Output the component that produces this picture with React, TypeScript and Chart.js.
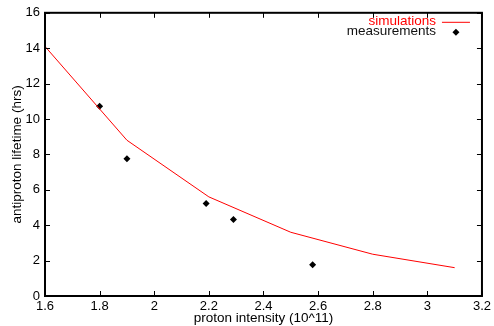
import React, { useEffect, useRef } from "react";
import { Chart, registerables } from "chart.js";

Chart.register(...registerables);

const simX = [1.6, 1.9, 2.2, 2.5, 2.8, 3.1];
const simY = [14.1, 8.8, 5.6, 3.6, 2.36, 1.6];
const measX = [1.8, 1.9, 2.19, 2.29, 2.58];
const measY = [10.72, 7.75, 5.22, 4.32, 1.77];
const seriesLabels = ["simulations", "measurements"];
const xTitle = "proton intensity (10^11)";
const yTitle = "antiproton lifetime (hrs)";

const FONT = "'Liberation Sans', Arial, sans-serif";

const framePlugin = {
  id: "frame",
  afterDraw(chart: any) {
    const { ctx, chartArea: a, scales } = chart;
    ctx.save();
    ctx.strokeStyle = "#000";
    ctx.lineWidth = 1;
    const tl = 5;
    ctx.beginPath();
    for (const t of scales.x.ticks) {
      const px = Math.round(scales.x.getPixelForValue(t.value)) + 0.5;
      ctx.moveTo(px, a.bottom);
      ctx.lineTo(px, a.bottom - tl);
      ctx.moveTo(px, a.top);
      ctx.lineTo(px, a.top + tl);
    }
    for (const t of scales.y.ticks) {
      const py = Math.round(scales.y.getPixelForValue(t.value)) + 0.5;
      ctx.moveTo(a.left, py);
      ctx.lineTo(a.left + tl, py);
      ctx.moveTo(a.right, py);
      ctx.lineTo(a.right - tl, py);
    }
    ctx.stroke();
    ctx.lineWidth = 2;
    ctx.strokeRect(a.left, a.top, a.right - a.left, a.bottom - a.top);

    // legend (gnuplot style)
    const ds = chart.data.datasets;
    ctx.font = `13.5px ${FONT}`;
    ctx.textAlign = "right";
    ctx.textBaseline = "middle";
    const textX = a.right - 46;
    const y1 = a.top + 8.5;
    const y2 = a.top + 18.5;
    ctx.fillStyle = ds[0].borderColor;
    ctx.fillText(ds[0].label, textX, y1);
    ctx.strokeStyle = ds[0].borderColor;
    ctx.lineWidth = 1;
    ctx.beginPath();
    ctx.moveTo(a.right - 40, y1 + 1);
    ctx.lineTo(a.right - 12, y1 + 1);
    ctx.stroke();
    ctx.fillStyle = "#111";
    ctx.fillText(ds[1].label, textX, y2);
    const dx = a.right - 26;
    const dy = y2 + 1;
    const r = 3.5;
    ctx.fillStyle = ds[1].backgroundColor;
    ctx.beginPath();
    ctx.moveTo(dx, dy - r);
    ctx.lineTo(dx + r, dy);
    ctx.lineTo(dx, dy + r);
    ctx.lineTo(dx - r, dy);
    ctx.closePath();
    ctx.fill();
    ctx.restore();
  },
};

export default function App() {
  const ref = useRef<HTMLCanvasElement>(null);
  useEffect(() => {
    if (!ref.current) return;
    Chart.defaults.font.family = FONT;
    const chart = new Chart(ref.current, {
      type: "scatter",
      data: {
        datasets: [
          {
            label: seriesLabels[0],
            data: simX.map((x, i) => ({ x, y: simY[i] })),
            showLine: true,
            borderColor: "#ff0000",
            backgroundColor: "#ff0000",
            borderWidth: 1,
            pointRadius: 0,
          },
          {
            label: seriesLabels[1],
            data: measX.map((x, i) => ({ x, y: measY[i] })),
            showLine: false,
            borderColor: "#000",
            backgroundColor: "#000",
            pointStyle: "rectRot",
            pointRadius: 3.5,
            borderWidth: 0,
          },
        ],
      },
      options: {
        animation: false,
        responsive: false,
        layout: { padding: { top: 10, right: 10, left: 0, bottom: 0 } },
        plugins: { legend: { display: false }, tooltip: { enabled: false } },
        scales: {
          x: {
            type: "linear",
            min: 1.6,
            max: 3.2,
            afterFit: (s: any) => {
              s.height = 30;
            },
            grid: { drawOnChartArea: false, drawTicks: false },
            border: { display: false },
            ticks: {
              stepSize: 0.2,
              padding: 3,
              color: "#000",
              font: { size: 13 },
              maxRotation: 0,
              callback: (v: any) => String(Number(Number(v).toFixed(1))),
            },
            title: {
              display: true,
              text: xTitle,
              color: "#000",
              font: { size: 13.5, lineHeight: 1 },
              padding: { top: 0, bottom: 0.5 },
            },
          },
          y: {
            type: "linear",
            min: 0,
            max: 16,
            afterFit: (s: any) => {
              s.width = 45;
            },
            grid: { drawOnChartArea: false, drawTicks: false },
            border: { display: false },
            ticks: {
              stepSize: 2,
              padding: 5,
              color: "#000",
              font: { size: 13 },
            },
            title: {
              display: true,
              text: yTitle,
              color: "#000",
              font: { size: 13.5, lineHeight: 1 },
              padding: { top: 10.5, bottom: 0 },
            },
          },
        },
      },
      plugins: [framePlugin],
    });
    return () => chart.destroy();
  }, []);
  return (
    <div style={{ position: "fixed", left: 0, top: 0, width: 494, height: 326, background: "#fff" }}>
      <canvas ref={ref} width={494} height={326} />
    </div>
  );
}
